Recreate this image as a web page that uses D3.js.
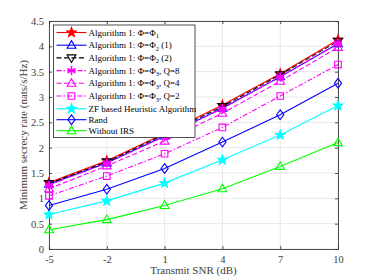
<!DOCTYPE html>
<html>
<head>
<meta charset="utf-8">
<script src="https://cdn.jsdelivr.net/npm/d3@7"></script>
<style>
  body { margin: 0; background: #fff; }
  svg { display: block; font-family: "Liberation Serif", "Times New Roman", serif; }
</style>
</head>
<body>
<svg id="chart" width="374" height="280"></svg>
<script>
// chart data
const snr = [-5, -2, 1, 4, 7, 10];
const yTicks = [0, 0.5, 1, 1.5, 2, 2.5, 3, 3.5, 4, 4.5];

const algPhi1 = [1.31, 1.74, 2.28, 2.84, 3.46, 4.13];
const algPhi2a = [1.28, 1.70, 2.23, 2.78, 3.40, 4.05];
const algPhi2b = [1.29, 1.72, 2.26, 2.81, 3.44, 4.10];
const algPhi3Q8 = [1.26, 1.70, 2.22, 2.77, 3.40, 4.06];
const algPhi3Q4 = [1.19, 1.64, 2.13, 2.68, 3.31, 3.98];
const algPhi3Q2 = [1.05, 1.44, 1.88, 2.40, 3.02, 3.64];
const zfHeuristic = [0.68, 0.95, 1.30, 1.76, 2.25, 2.83];
const randPhase = [0.86, 1.18, 1.59, 2.11, 2.65, 3.27];
const withoutIrs = [0.38, 0.58, 0.86, 1.19, 1.63, 2.10];

const series = [
    { name: ["Algorithm 1: Φ=Φ", "1", ""], values: algPhi1, color: "#ff0000", dash: null, marker: "star5", filled: true },
    { name: ["Algorithm 1: Φ=Φ", "2", " (1)"], values: algPhi2a, color: "#0000ff", dash: null, marker: "triUp" },
    { name: ["Algorithm 1: Φ=Φ", "2", " (2)"], values: algPhi2b, color: "#000000", dash: "5,2.5", marker: "triDown" },
    { name: ["Algorithm 1: Φ=Φ", "3", ", Q=8"], values: algPhi3Q8, color: "#ff00ff", dash: "5,2,1.5,2", marker: "asterisk" },
    { name: ["Algorithm 1: Φ=Φ", "3", ", Q=4"], values: algPhi3Q4, color: "#ff00ff", dash: "5,2.5", marker: "triUp" },
    { name: ["Algorithm 1: Φ=Φ", "3", ", Q=2"], values: algPhi3Q2, color: "#ff00ff", dash: "5,2,1.5,2", marker: "square" },
    { name: ["ZF based Heuristic Algorithm", "", ""], values: zfHeuristic, color: "#00ffff", dash: null, marker: "star5", filled: true },
    { name: ["Rand", "", ""], values: randPhase, color: "#0000ff", dash: null, marker: "diamond" },
    { name: ["Without IRS", "", ""], values: withoutIrs, color: "#00ff00", dash: null, marker: "triUp" }
];

const margin = { top: 21, right: 36, bottom: 31, left: 49 },
    W = 374, H = 280,
    width = W - margin.left - margin.right,
    height = H - margin.top - margin.bottom,
    axisColor = "#262626";

const svg = d3.select("#chart");
const g = svg.append("g").attr("transform", `translate(${margin.left},${margin.top})`);

const x = d3.scaleLinear().domain([-5, 10]).range([0, width]);
const y = d3.scaleLinear().domain([0, 4.5]).range([height, 0]);

// grid
g.append("g").selectAll("line").data(snr).enter().append("line")
    .attr("x1", d => x(d)).attr("x2", d => x(d))
    .attr("y1", 0).attr("y2", height)
    .attr("stroke", "#e3e3e3").attr("stroke-width", 0.8);
g.append("g").selectAll("line").data(yTicks).enter().append("line")
    .attr("x1", 0).attr("x2", width)
    .attr("y1", d => y(d)).attr("y2", d => y(d))
    .attr("stroke", "#e3e3e3").attr("stroke-width", 0.8);

// axes
g.append("g")
    .attr("transform", `translate(0,${height})`)
    .call(d3.axisBottom(x).tickValues(snr).tickSize(-3).tickPadding(7).tickSizeOuter(0).tickFormat(d => String(d)));
g.append("g")
    .call(d3.axisLeft(y).tickValues(yTicks).tickSize(-3).tickPadding(5).tickSizeOuter(0).tickFormat(d => String(d)));
g.append("g")
    .call(d3.axisTop(x).tickValues(snr).tickSize(-3).tickFormat("").tickSizeOuter(0));
g.append("g")
    .attr("transform", `translate(${width},0)`)
    .call(d3.axisRight(y).tickValues(yTicks).tickSize(-3).tickFormat("").tickSizeOuter(0));

g.selectAll(".domain, .tick line").attr("stroke", axisColor).attr("stroke-width", 0.8);
g.selectAll(".tick text")
    .attr("fill", "#404040")
    .style("font-size", "10.5px")
    .style("font-family", "'Liberation Serif', serif");

// labels
svg.append("text")
    .attr("x", margin.left + width / 2)
    .attr("y", 274)
    .attr("text-anchor", "middle")
    .attr("fill", "#404040")
    .style("font-size", "11px")
    .text("Transmit SNR (dB)");
svg.append("text")
    .attr("transform", `translate(27,${margin.top + height / 2}) rotate(-90)`)
    .attr("text-anchor", "middle")
    .attr("fill", "#404040")
    .style("font-size", "11px")
    .text("Minimum secrecy rate (nats/s/Hz)");

// markers
function starPath(r, n, inner) {
    let pts = [];
    for (let i = 0; i < 2 * n; i++) {
        let a = -Math.PI / 2 + i * Math.PI / n,
            rr = i % 2 === 0 ? r : r * inner;
        pts.push([rr * Math.cos(a), rr * Math.sin(a)]);
    }
    return "M" + pts.map(p => p[0].toFixed(2) + "," + p[1].toFixed(2)).join("L") + "Z";
}

function drawMarker(sel, type, color, filled) {
    let p;
    if (type === "star5") p = starPath(5, 5, 0.42);
    else if (type === "triUp") p = "M0,-4.6L4.4,3L-4.4,3Z";
    else if (type === "triDown") p = "M0,4.6L4.4,-3L-4.4,-3Z";
    else if (type === "square") p = "M-3.3,-3.3H3.3V3.3H-3.3Z";
    else if (type === "diamond") p = "M0,-4.8L3.6,0L0,4.8L-3.6,0Z";
    else if (type === "asterisk") p = "M0,-4.5V4.5M-3.9,-2.25L3.9,2.25M-3.9,2.25L3.9,-2.25M-4,0H4";
    sel.append("path")
        .attr("d", p)
        .attr("fill", filled ? color : "none")
        .attr("stroke", color)
        .attr("stroke-width", type === "asterisk" ? 1.6 : 1.1)
        .attr("stroke-linejoin", "miter");
}

const line = d3.line().x((d, i) => x(snr[i])).y(d => y(d));

series.forEach(s => {
    g.append("path")
        .datum(s.values)
        .attr("d", line)
        .attr("fill", "none")
        .attr("stroke", s.color)
        .attr("stroke-width", 1.1)
        .attr("stroke-dasharray", s.dash);
    s.values.forEach((v, i) => {
        let m = g.append("g").attr("transform", `translate(${x(snr[i])},${y(v)})`);
        drawMarker(m, s.marker, s.color, s.filled);
    });
});

// legend
const rowHeights = [12.7, 12.7, 12.7, 12.7, 12.7, 12.7, 11, 11, 11];
const legend = svg.append("g").attr("transform", "translate(53.5,25)");
legend.append("rect")
    .attr("width", 141.5).attr("height", 112.5)
    .attr("fill", "#fff")
    .attr("stroke", axisColor).attr("stroke-width", 0.8);

let ry = 7.5;
series.forEach((s, i) => {
    let row = legend.append("g").attr("transform", `translate(0,${ry})`);
    row.append("line")
        .attr("x1", 3).attr("x2", 33)
        .attr("y1", 0).attr("y2", 0)
        .attr("stroke", s.color)
        .attr("stroke-width", 1.1)
        .attr("stroke-dasharray", s.dash);
    drawMarker(row.append("g").attr("transform", "translate(18,0)"), s.marker, s.color, s.filled);
    let t = row.append("text")
        .attr("x", 35)
        .attr("y", 3)
        .attr("fill", "#000")
        .style("font-size", "9px");
    t.append("tspan").text(s.name[0]);
    if (s.name[1]) {
        t.append("tspan").attr("dy", 2.5).style("font-size", "6.5px").text(s.name[1]);
        t.append("tspan").attr("dy", -2.5).text(s.name[2]);
    }
    ry += rowHeights[i];
});
</script>
</body>
</html>
